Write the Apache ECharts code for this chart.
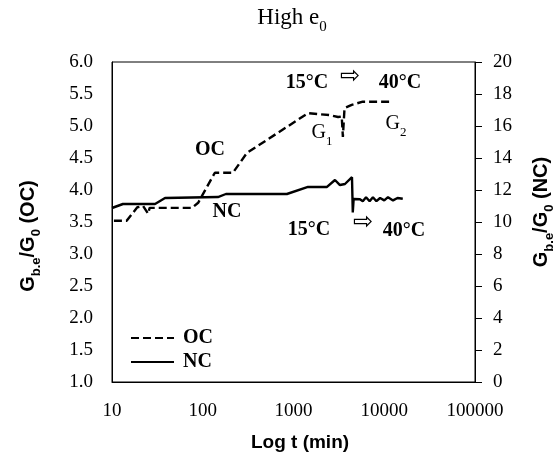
<!DOCTYPE html>
<html>
<head>
<meta charset="utf-8">
<script src="https://cdn.jsdelivr.net/npm/echarts@6/dist/echarts.min.js"></script>
<style>html,body{margin:0;padding:0;background:#fff;}#c{width:560px;height:457px;}</style>
</head>
<body>
<div id="c"></div>
<script>
// ---- data ----
const tOC = [10.5, 14.5, 19, 22, 25, 26, 76, 89, 136, 215, 307, 1445, 2520, 3100, 3400, 3500, 3650, 4380, 5800, 12300];
const vOC = [3.52, 3.52, 3.73, 3.75, 3.63, 3.72, 3.72, 3.8, 4.27, 4.27, 4.58, 5.2, 5.17, 5.14, 5.15, 4.83, 5.28, 5.33, 5.38, 5.38];
const tNC = [10, 13.2, 29.8, 38.4, 147, 180, 846, 1445, 2340, 2865, 3250, 3690, 4410, 4500, 4600, 5400, 5800, 6300, 6900, 7500, 8200, 9000, 10000, 11000, 12500, 14000, 16000];
const vNC = [10.875, 11.125, 11.125, 11.5, 11.56, 11.75, 11.75, 12.19, 12.19, 12.625, 12.31, 12.375, 12.8, 10.6, 11.44, 11.42, 11.3, 11.55, 11.3, 11.55, 11.3, 11.5, 11.35, 11.55, 11.35, 11.5, 11.45];
const xTicks = [10, 100, 1000, 10000, 100000];
const yLeftTicks = [1.0, 1.5, 2.0, 2.5, 3.0, 3.5, 4.0, 4.5, 5.0, 5.5, 6.0];
const yRightTicks = [0, 2, 4, 6, 8, 10, 12, 14, 16, 18, 20];

const serif = '"Liberation Serif", "Times New Roman", serif';
const sans = '"Liberation Sans", Arial, sans-serif';

const chart = echarts.init(document.getElementById('c'), null, {renderer: 'canvas'});

function richTok(family, weight, size, lh, sub) {
  const s = {fontFamily: family, fontWeight: weight, fontSize: size, lineHeight: lh, fill: '#000', color: '#000'};
  if (sub) s.verticalAlign = 'bottom';
  return s;
}
function label(x, y, text, rich, rotation) {
  return {
    type: 'text', x: x, y: y, rotation: rotation || 0, silent: true,
    style: {text: text, rich: rich, align: 'center', verticalAlign: 'middle', fill: '#000'}
  };
}
const sansRich = {m: richTok(sans, 'bold', 20, 30), s: richTok(sans, 'bold', 13, 14, true)};
const serifRich = {m: richTok(serif, 'normal', 20, 30), s: richTok(serif, 'normal', 13, 14, true)};
const titleRich = {m: richTok(serif, 'normal', 23, 34), s: richTok(serif, 'normal', 15, 16, true)};
const boldSerif = {b: richTok(serif, 'bold', 20, 24)};
const arrowRich = {a: richTok('"DejaVu Sans", sans-serif', 'normal', 24, 26)};

const option = {
  animation: false,
  backgroundColor: '#fff',
  grid: {left: 112, right: 85, top: 62, bottom: 75, show: true, borderColor: '#000', borderWidth: 1, backgroundColor: 'transparent'},
  legend: {
    orient: 'vertical', left: 125, top: 323, itemWidth: 43, itemHeight: 14, itemGap: 4,
    itemStyle: {opacity: 0},
    textStyle: {fontFamily: serif, fontWeight: 'bold', fontSize: 20, color: '#000', padding: [0, 0, 0, 4]},
    data: ['OC', 'NC']
  },
  xAxis: {
    type: 'log', logBase: 10, min: xTicks[0], max: xTicks[xTicks.length - 1],
    axisLine: {show: true, lineStyle: {color: '#000', width: 1}},
    axisTick: {show: false}, splitLine: {show: false}, minorTick: {show: false},
    axisLabel: {fontFamily: serif, fontSize: 19, color: '#000', margin: 20, formatter: v => String(Math.round(v))}
  },
  yAxis: [
    {
      type: 'value', min: yLeftTicks[0], max: yLeftTicks[yLeftTicks.length - 1], interval: 0.5, position: 'left',
      axisLine: {show: true, lineStyle: {color: '#000', width: 1}},
      axisTick: {show: false}, splitLine: {show: false},
      axisLabel: {fontFamily: serif, fontSize: 19, color: '#000', margin: 19, formatter: v => v.toFixed(1)}
    },
    {
      type: 'value', min: yRightTicks[0], max: yRightTicks[yRightTicks.length - 1], interval: 2, position: 'right',
      axisLine: {show: true, lineStyle: {color: '#000', width: 1}},
      axisTick: {show: true, inside: false, length: 7, lineStyle: {color: '#000'}}, splitLine: {show: false},
      axisLabel: {fontFamily: serif, fontSize: 19, color: '#000', margin: 18}
    }
  ],
  series: [
    {
      name: 'OC', type: 'line', yAxisIndex: 0, symbol: 'none', showSymbol: false,
      data: tOC.map((t, i) => [t, vOC[i]]),
      lineStyle: {color: '#000', width: 2.4, type: [8, 4]}, itemStyle: {color: '#000'}
    },
    {
      name: 'NC', type: 'line', yAxisIndex: 1, symbol: 'none', showSymbol: false,
      data: tNC.map((t, i) => [t, vNC[i]]),
      lineStyle: {color: '#000', width: 2.4, type: 'solid'}, itemStyle: {color: '#000'}
    }
  ],
  graphic: [
    label(292, 18, '{m|High e}{s|0}', titleRich),
    label(28, 236, '{m|G}{s|b.e}{m|/G}{s|0}{m| (OC)}', sansRich, Math.PI / 2),
    label(541, 212, '{m|G}{s|b.e}{m|/G}{s|0}{m| (NC)}', sansRich, Math.PI / 2),
    label(300, 443, '{m|Log t (min)}', {m: richTok(sans, 'bold', 19, 24)}),
    label(210, 150, '{b|OC}', boldSerif),
    label(227, 212, '{b|NC}', boldSerif),
    label(307, 83, '{b|15°C}', boldSerif),
    label(350, 77, '{a|⇨}', arrowRich),
    label(400, 83, '{b|40°C}', boldSerif),
    label(309, 230, '{b|15°C}', boldSerif),
    label(363, 223, '{a|⇨}', arrowRich),
    label(404, 231, '{b|40°C}', boldSerif),
    label(322, 133, '{m|G}{s|1}', serifRich),
    label(396, 124, '{m|G}{s|2}', serifRich)
  ]
};
chart.setOption(option);
</script>
</body>
</html>
